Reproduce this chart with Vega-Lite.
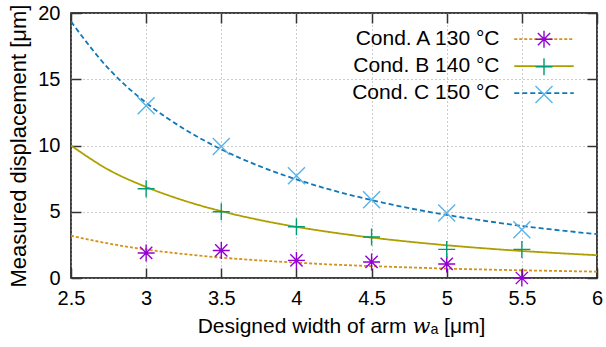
{
  "$schema": "https://vega.github.io/schema/vega-lite/v6.json",
  "width": 526,
  "height": 265,
  "autosize": "none",
  "padding": {"left": 71, "top": 13, "right": 9, "bottom": 69},
  "background": "white",
  "config": {
    "view": {"stroke": "black", "strokeWidth": 1.5},
    "font": "Liberation Sans, DejaVu Sans, DejaVu Serif",
    "axis": {"labelFont": "Liberation Sans", "titleFont": "Liberation Sans, DejaVu Sans, DejaVu Serif", "labelColor": "black", "titleColor": "black", "titleFontWeight": "normal"}
  },
  "datasets": {
    "curves": [
      {"cond": "Cond. A 130 °C", "x": 2.5, "y": 3.19}, {"cond": "Cond. A 130 °C", "x": 2.75, "y": 2.6}, {"cond": "Cond. A 130 °C", "x": 3, "y": 2.15}, {"cond": "Cond. A 130 °C", "x": 3.25, "y": 1.81}, {"cond": "Cond. A 130 °C", "x": 3.5, "y": 1.54}, {"cond": "Cond. A 130 °C", "x": 3.75, "y": 1.33}, {"cond": "Cond. A 130 °C", "x": 4, "y": 1.16}, {"cond": "Cond. A 130 °C", "x": 4.25, "y": 1.01}, {"cond": "Cond. A 130 °C", "x": 4.5, "y": 0.9}, {"cond": "Cond. A 130 °C", "x": 4.75, "y": 0.8}, {"cond": "Cond. A 130 °C", "x": 5, "y": 0.71}, {"cond": "Cond. A 130 °C", "x": 5.25, "y": 0.64}, {"cond": "Cond. A 130 °C", "x": 5.5, "y": 0.58}, {"cond": "Cond. A 130 °C", "x": 5.75, "y": 0.53}, {"cond": "Cond. A 130 °C", "x": 6, "y": 0.48},
      {"cond": "Cond. B 140 °C", "x": 2.5, "y": 10.0}, {"cond": "Cond. B 140 °C", "x": 2.75, "y": 8.17}, {"cond": "Cond. B 140 °C", "x": 3, "y": 6.87}, {"cond": "Cond. B 140 °C", "x": 3.25, "y": 5.85}, {"cond": "Cond. B 140 °C", "x": 3.5, "y": 5.04}, {"cond": "Cond. B 140 °C", "x": 3.75, "y": 4.39}, {"cond": "Cond. B 140 °C", "x": 4, "y": 3.86}, {"cond": "Cond. B 140 °C", "x": 4.25, "y": 3.42}, {"cond": "Cond. B 140 °C", "x": 4.5, "y": 3.05}, {"cond": "Cond. B 140 °C", "x": 4.75, "y": 2.74}, {"cond": "Cond. B 140 °C", "x": 5, "y": 2.47}, {"cond": "Cond. B 140 °C", "x": 5.25, "y": 2.24}, {"cond": "Cond. B 140 °C", "x": 5.5, "y": 2.04}, {"cond": "Cond. B 140 °C", "x": 5.75, "y": 1.87}, {"cond": "Cond. B 140 °C", "x": 6, "y": 1.72},
      {"cond": "Cond. C 150 °C", "x": 2.5, "y": 19.35}, {"cond": "Cond. C 150 °C", "x": 2.75, "y": 15.8}, {"cond": "Cond. C 150 °C", "x": 3, "y": 13.22}, {"cond": "Cond. C 150 °C", "x": 3.25, "y": 11.27}, {"cond": "Cond. C 150 °C", "x": 3.5, "y": 9.71}, {"cond": "Cond. C 150 °C", "x": 3.75, "y": 8.46}, {"cond": "Cond. C 150 °C", "x": 4, "y": 7.44}, {"cond": "Cond. C 150 °C", "x": 4.25, "y": 6.59}, {"cond": "Cond. C 150 °C", "x": 4.5, "y": 5.88}, {"cond": "Cond. C 150 °C", "x": 4.75, "y": 5.27}, {"cond": "Cond. C 150 °C", "x": 5, "y": 4.76}, {"cond": "Cond. C 150 °C", "x": 5.25, "y": 4.32}, {"cond": "Cond. C 150 °C", "x": 5.5, "y": 3.93}, {"cond": "Cond. C 150 °C", "x": 5.75, "y": 3.6}, {"cond": "Cond. C 150 °C", "x": 6, "y": 3.31}
    ],
    "points": [
      {"series": "A", "x": 3, "y": 1.89}, {"series": "A", "x": 3.5, "y": 2.08}, {"series": "A", "x": 4, "y": 1.33}, {"series": "A", "x": 4.5, "y": 1.21}, {"series": "A", "x": 5, "y": 1.06}, {"series": "A", "x": 5.5, "y": 0.0},
      {"series": "B", "x": 3, "y": 6.74}, {"series": "B", "x": 3.5, "y": 5.0}, {"series": "B", "x": 4, "y": 3.87}, {"series": "B", "x": 4.5, "y": 3.09}, {"series": "B", "x": 5, "y": 2.16}, {"series": "B", "x": 5.5, "y": 2.16},
      {"series": "C", "x": 3, "y": 13.0}, {"series": "C", "x": 3.5, "y": 9.93}, {"series": "C", "x": 4, "y": 7.72}, {"series": "C", "x": 4.5, "y": 5.91}, {"series": "C", "x": 5, "y": 4.9}, {"series": "C", "x": 5.5, "y": 3.65}
    ]
  },
  "resolve": {"axis": {"x": "independent", "y": "independent"}},
  "layer": [
    {
      "data": {"name": "curves"},
      "mark": {"type": "line", "strokeWidth": 1.8, "interpolate": "monotone", "clip": true},
      "encoding": {
        "x": {"field": "x", "type": "quantitative", "scale": {"domain": [2.5, 6], "nice": false, "zero": false},
          "axis": {"orient": "bottom", "offset": -10, "values": [2.5, 3, 3.5, 4, 4.5, 5, 5.5, 6], "format": "~g", "domain": false, "tickSize": 10, "tickColor": "#333", "tickWidth": 1.5, "labelPadding": 10, "labelFontSize": 20, "labelFlush": false,
            "grid": true, "gridDash": [1, 3], "gridColor": "#999", "gridWidth": 1,
            "title": "Designed width of arm  𝑤ₐ [μm]", "titleFontSize": 21, "titlePadding": 7, "titleX": 270}},
        "y": {"field": "y", "type": "quantitative", "scale": {"domain": [0, 20], "nice": false},
          "axis": {"orient": "left", "offset": -10, "values": [0, 5, 10, 15, 20], "domain": false, "tickSize": 10, "tickColor": "#333", "tickWidth": 1.5, "labelPadding": 11, "labelFontSize": 20, "labelFlush": false,
            "grid": true, "gridDash": [1, 3], "gridColor": "#999", "gridWidth": 1,
            "title": "Measured displacement [μm]", "titleFontSize": 22, "titlePadding": 7}},
        "stroke": {"field": "cond", "type": "nominal",
          "scale": {"domain": ["Cond. A 130 °C", "Cond. B 140 °C", "Cond. C 150 °C"], "range": ["#d4921a", "#ad9f00", "#0e78b8"]},
          "legend": {"orient": "none", "legendX": 462.5, "legendY": 15.7, "title": null, "symbolType": "M-3.5,0L3.5,0", "symbolSize": 289, "symbolStrokeWidth": 1.8,
            "labelFontSize": 21, "labelFont": "Liberation Sans", "labelAlign": "right", "labelOffset": -55, "rowPadding": 5, "padding": 0, "labelColor": "black"}},
        "strokeDash": {"field": "cond", "type": "nominal",
          "scale": {"domain": ["Cond. A 130 °C", "Cond. B 140 °C", "Cond. C 150 °C"], "range": [[3, 2], [1, 0], [5, 3]]},
          "legend": {"orient": "none", "legendX": 462.5, "legendY": 15.7, "title": null, "symbolType": "M-3.5,0L3.5,0", "symbolSize": 289, "symbolStrokeWidth": 1.8,
            "labelFontSize": 21, "labelFont": "Liberation Sans", "labelAlign": "right", "labelOffset": -55, "rowPadding": 5, "padding": 0, "labelColor": "black"}}
      }
    },
    {
      "data": {"name": "points"},
      "mark": {"type": "point", "filled": false, "strokeWidth": 1.4, "size": 289, "opacity": 1, "clip": false},
      "encoding": {
        "x": {"field": "x", "type": "quantitative", "axis": null},
        "y": {"field": "y", "type": "quantitative", "axis": null},
        "color": {"field": "series", "type": "nominal",
          "scale": {"domain": ["A", "B", "C"], "range": ["#9400d3", "#009e73", "#56b4e9"]},
          "legend": {"orient": "none", "legendX": 462.5, "legendY": 15.7, "title": null, "symbolSize": 289, "symbolStrokeWidth": 1.4, "symbolFillColor": "transparent",
            "labelFontSize": 21, "labelExpr": "''", "rowPadding": 4.6, "padding": 0}},
        "shape": {"field": "series", "type": "nominal",
          "scale": {"domain": ["A", "B", "C"], "range": ["M-1,0L1,0M0,-1L0,1M-0.72,-0.72L0.72,0.72M-0.72,0.72L0.72,-0.72", "M-1,0L1,0M0,-1L0,1", "M-1,-1L1,1M-1,1L1,-1"]},
          "legend": {"orient": "none", "legendX": 462.5, "legendY": 15.7, "title": null, "symbolSize": 289, "symbolStrokeWidth": 1.4, "symbolFillColor": "transparent",
            "labelFontSize": 21, "labelExpr": "''", "rowPadding": 4.6, "padding": 0}}
      }
    },
    {
      "data": {"name": "points"},
      "mark": {"type": "point", "opacity": 0},
      "encoding": {
        "x": {"field": "x", "type": "quantitative",
          "axis": {"orient": "top", "offset": -10, "values": [2.5, 3, 3.5, 4, 4.5, 5, 5.5, 6], "labels": false, "domain": false, "grid": false, "tickSize": 10, "tickColor": "#333", "tickWidth": 1.5, "title": null}},
        "y": {"field": "y", "type": "quantitative",
          "axis": {"orient": "right", "offset": -10, "values": [0, 5, 10, 15, 20], "labels": false, "domain": false, "grid": false, "tickSize": 10, "tickColor": "#333", "tickWidth": 1.5, "title": null}}
      }
    }
  ]
}
